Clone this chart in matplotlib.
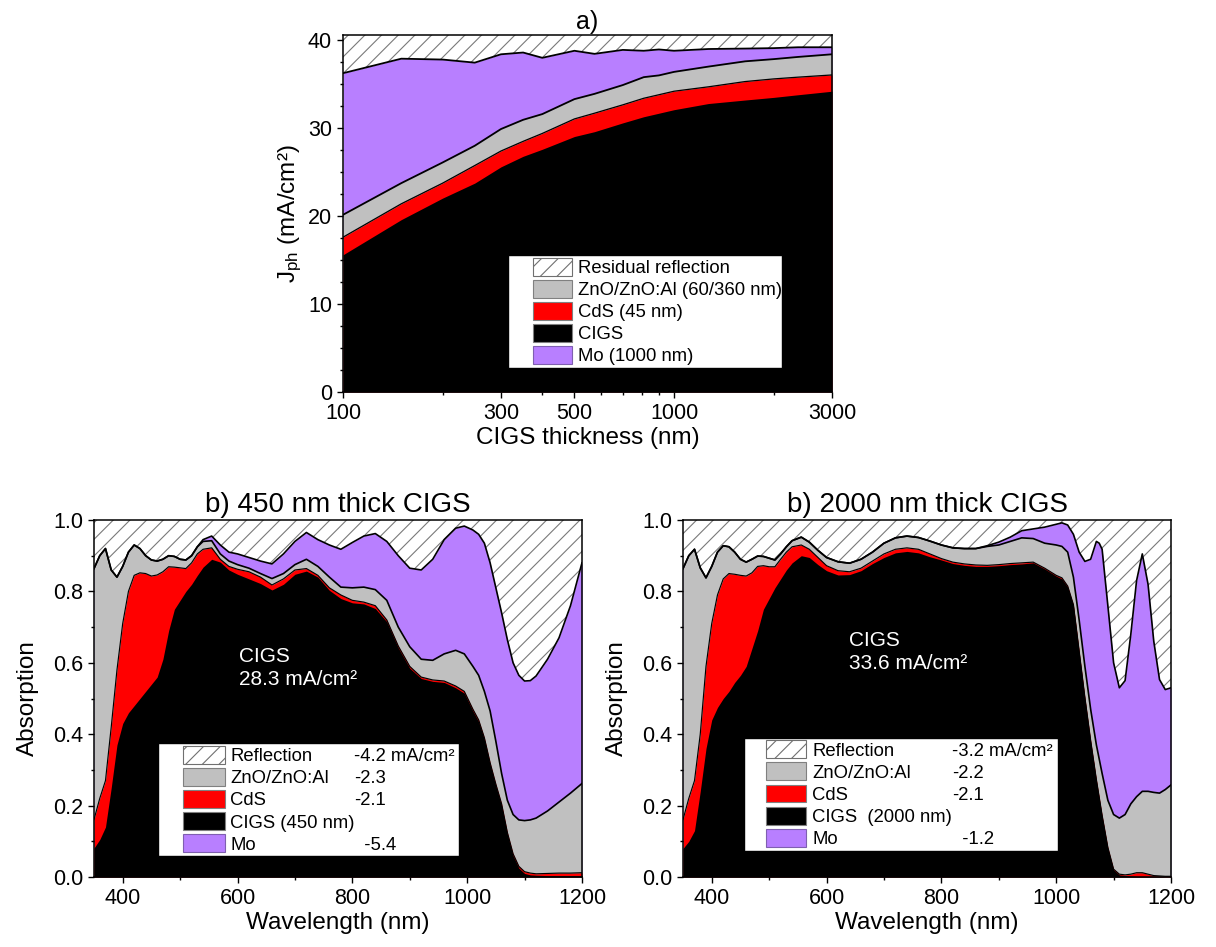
import numpy as np
import matplotlib.pyplot as plt
from matplotlib.patches import Patch, Rectangle
from matplotlib.legend_handler import HandlerPatch
from matplotlib.ticker import FixedLocator, NullFormatter, FuncFormatter, MultipleLocator

plt.rcParams['font.family'] = ['Liberation Sans', 'DejaVu Sans']
plt.rcParams['mathtext.fontset'] = 'custom'
plt.rcParams['mathtext.rm'] = 'Liberation Sans'
plt.rcParams['mathtext.it'] = 'Liberation Sans:italic'
plt.rcParams['hatch.linewidth'] = 0.8

PURPLE = '#b87fff'
GRAY = '#c0c0c0'
RED = '#ff0000'
HATCH = '#7a7a7a'

# ---- a) photocurrent vs CIGS thickness (cumulative tops, mA/cm2)
thickness = [100, 150, 200, 250, 300, 350, 400, 500, 575, 700, 810, 900, 1000, 1270, 1640, 2000, 2370, 3000]
j_cigs = [15.6, 19.6, 22.05, 23.75, 25.6, 26.8, 27.6, 29.05, 29.6, 30.6, 31.3, 31.7, 32.1, 32.8, 33.2, 33.5, 33.8, 34.2]
j_cds = [17.6, 21.4, 23.75, 25.75, 27.4, 28.5, 29.4, 31.05, 31.7, 32.65, 33.4, 33.8, 34.2, 34.7, 35.3, 35.6, 35.8, 36.05]
j_zno = [20.15, 23.75, 26.1, 28.0, 29.9, 30.95, 31.6, 33.3, 33.9, 34.9, 35.8, 36.0, 36.4, 37.0, 37.6, 37.85, 38.1, 38.4]
j_mo = [36.25, 37.9, 37.8, 37.45, 38.4, 38.6, 38.0, 38.8, 38.45, 38.9, 38.8, 38.95, 38.8, 39.0, 39.05, 39.1, 39.2, 39.2]
j_incident = 41.0
labels_a = ['Residual reflection', 'ZnO/ZnO:Al (60/360 nm)', 'CdS (45 nm)', 'CIGS', 'Mo (1000 nm)']

# ---- b) absorption spectra, 450 nm CIGS (cumulative tops)
wl_450 = [350, 360, 370, 380, 390, 400, 410, 420, 430, 440, 450, 460, 470, 480, 490, 500, 510, 520, 530, 540,
          555, 570, 585, 600, 620, 640, 660, 680, 700, 720, 740, 760, 780, 800, 820, 840, 860, 880, 900, 920,
          940, 960, 980, 995, 1010, 1020, 1030, 1040, 1050, 1060, 1070, 1080, 1090, 1100, 1110, 1120, 1140,
          1160, 1180, 1200]
a450_cigs = [.081, .105, .14, .25, .37, .43, .46, .48, .50, .52, .54, .56, .61, .69, .75, .775, .80, .82, .845, .868,
             .89, .882, .86, .848, .835, .822, .804, .82, .848, .857, .84, .803, .78, .768, .765, .752, .715, .642, .585, .556,
             .548, .545, .53, .515, .465, .435, .385, .315, .255, .20, .12, .06, .025, .01, .006, .005, .004,
             .004, .004, .004]
a450_cds = [.161, .22, .27, .42, .58, .71, .80, .845, .852, .85, .843, .846, .855, .869, .868, .866, .864, .88, .905, .918,
            .922, .89, .87, .862, .855, .84, .818, .835, .86, .864, .845, .81, .79, .775, .77, .76, .72, .647, .59, .56,
            .552, .549, .535, .52, .47, .44, .39, .32, .26, .205, .125, .065, .03, .015, .011, .009, .01,
            .011, .011, .012]
a450_zno = [.864, .90, .92, .86, .84, .87, .91, .93, .92, .90, .888, .885, .89, .90, .898, .89, .888, .90, .925, .94,
            .942, .905, .885, .875, .865, .85, .836, .85, .875, .89, .87, .84, .812, .81, .812, .805, .775, .70, .645, .61,
            .607, .625, .635, .625, .59, .565, .52, .465, .38, .29, .215, .175, .16, .158, .16, .165, .185,
            .21, .235, .262]
a450_mo = [.864, .90, .92, .86, .84, .87, .91, .93, .92, .90, .888, .885, .89, .90, .898, .89, .888, .90, .925, .945,
           .955, .93, .91, .905, .895, .885, .877, .905, .94, .965, .945, .93, .918, .937, .955, .962, .94, .90, .865, .86,
           .89, .945, .977, .983, .972, .96, .935, .88, .81, .74, .665, .60, .565, .549, .55, .563, .61,
           .67, .76, .88]
labels_450 = ['Reflection', 'ZnO/ZnO:Al', 'CdS', 'CIGS (450 nm)', 'Mo']
values_450 = ['-4.2 mA/cm²', '-2.3', '-2.1', '', '  -5.4']

# ---- b) absorption spectra, 2000 nm CIGS (cumulative tops)
wl_2000 = [350, 360, 370, 380, 390, 400, 410, 420, 430, 440, 450, 460, 470, 480, 490, 500, 510, 520, 530, 540,
           556, 570, 585, 600, 620, 640, 660, 680, 700, 720, 740, 760, 780, 800, 820, 840, 860, 880, 900, 920,
           940, 960, 980, 1000, 1010, 1020, 1030, 1040, 1050, 1060, 1070, 1075, 1080, 1090, 1100, 1110, 1120,
           1130, 1140, 1150, 1160, 1170, 1180, 1190, 1200]
a2000_cigs = [.08, .10, .13, .24, .36, .44, .475, .50, .52, .545, .565, .59, .64, .69, .75, .78, .81, .835, .86, .88,
              .90, .895, .875, .858, .846, .847, .858, .878, .895, .908, .912, .908, .897, .888, .878, .873, .870, .870, .872, .875,
              .877, .88, .863, .843, .835, .812, .76, .63, .50, .38, .27, .22, .17, .08, .02, .006, .004,
              .003, .002, .002, .002, .002, .002, .001, .001]
a2000_cds = [.161, .22, .27, .40, .59, .71, .79, .835, .85, .848, .845, .843, .852, .87, .872, .869, .869, .89, .91, .925,
             .93, .918, .895, .872, .858, .855, .865, .885, .905, .918, .922, .918, .905, .892, .882, .877, .874, .873, .875, .878,
             .88, .882, .865, .845, .838, .815, .763, .633, .503, .383, .273, .223, .173, .083, .022, .008, .006,
             .008, .012, .012, .008, .004, .003, .002, .002]
a2000_zno = [.864, .90, .918, .866, .838, .87, .91, .928, .925, .91, .89, .882, .89, .899, .898, .893, .888, .905, .925, .942,
             .952, .938, .915, .895, .883, .879, .89, .91, .935, .95, .955, .951, .941, .93, .922, .92, .92, .926, .93, .94,
             .95, .948, .935, .93, .926, .91, .84, .72, .59, .47, .37, .33, .29, .215, .175, .165, .175,
             .205, .225, .24, .24, .237, .235, .245, .258]
a2000_mo = [.864, .90, .918, .866, .838, .87, .91, .928, .925, .91, .89, .882, .89, .899, .898, .893, .888, .905, .925, .942,
            .952, .938, .915, .895, .883, .879, .89, .91, .935, .95, .955, .951, .941, .93, .922, .92, .92, .928, .938, .952,
            .97, .975, .98, .988, .992, .986, .96, .91, .884, .89, .94, .935, .918, .76, .60, .53, .55,
            .68, .83, .905, .82, .66, .553, .525, .53]
labels_2000 = ['Reflection', 'ZnO/ZnO:Al', 'CdS', 'CIGS  (2000 nm)', 'Mo']
values_2000 = ['-3.2 mA/cm²', '-2.2', '-2.1', '', '  -1.2']


def draw_stack(ax, x, cigs, cds, zno, mo, top, lw):
    # overlapping fills from zero avoid seams between the layers
    ax.fill_between(x, mo, top, facecolor='white', edgecolor=HATCH, hatch='//', lw=0, zorder=1)
    ax.fill_between(x, 0, mo, color=PURPLE, lw=0, zorder=1.1)
    ax.fill_between(x, 0, zno, color=GRAY, lw=0, zorder=1.2)
    ax.fill_between(x, 0, cds, color=RED, lw=0, zorder=1.3)
    ax.fill_between(x, 0, cigs, color='black', lw=0, zorder=1.4)
    ax.plot(x, cds, color='black', lw=lw * 0.7, zorder=2)
    ax.plot(x, zno, color='black', lw=lw, zorder=2)
    ax.plot(x, mo, color='black', lw=lw, zorder=2)


def legend_handles():
    return [Patch(facecolor='white', edgecolor='#707070', hatch='//', lw=0.8),
            Patch(facecolor=GRAY, edgecolor='#808080', lw=0.8),
            Patch(facecolor=RED, edgecolor='#808080', lw=0.8),
            Patch(facecolor='black', edgecolor='#808080', lw=0.8),
            Patch(facecolor=PURPLE, edgecolor='#7f5fb0', lw=0.8)]


def add_legend(ax, labels, x0, y0, w, hl, frac):
    def swatch(legend, orig_handle, xdescent, ydescent, width, height, fontsize):
        return Rectangle((-xdescent + width * frac, -ydescent), width * (1 - frac), height)

    leg = ax.legend(legend_handles(), labels, loc='lower left', bbox_to_anchor=(x0, y0, w, 0.2),
                    mode='expand', borderaxespad=0, fancybox=False, edgecolor='black', framealpha=1,
                    fontsize=13.3, handlelength=hl, handleheight=1.12, labelspacing=0.15,
                    handletextpad=0.3, borderpad=0.15,
                    handler_map={Patch: HandlerPatch(patch_func=swatch)})
    leg.get_frame().set_linewidth(1.0)
    return leg


def style_axes(ax):
    for s in ax.spines.values():
        s.set_linewidth(1.1)
    ax.tick_params(which='both', direction='out', top=False, right=False, width=1.0,
                   labelsize=15.5, pad=4)
    ax.tick_params(which='major', length=4)
    ax.tick_params(which='minor', length=2.4)


fig = plt.figure(figsize=(12.16, 9.47), dpi=100)

# ---------------- panel a
ax_a = fig.add_axes([0.2821, 0.5861, 0.4021, 0.377])
draw_stack(ax_a, thickness, j_cigs, j_cds, j_zno, j_mo, j_incident, 1.3)
ax_a.set_xscale('log')
ax_a.set_xlim(100, 3000)
ax_a.set_ylim(0, 40.6)
ax_a.xaxis.set_major_locator(FixedLocator([100, 300, 500, 1000, 3000]))
ax_a.xaxis.set_major_formatter(FuncFormatter(lambda v, p: f'{v:g}'))
ax_a.xaxis.set_minor_locator(FixedLocator([200, 400, 600, 700, 800, 900, 2000]))
ax_a.xaxis.set_minor_formatter(NullFormatter())
ax_a.yaxis.set_major_locator(MultipleLocator(10))
ax_a.yaxis.set_minor_locator(MultipleLocator(2.5))
style_axes(ax_a)
ax_a.set_xlabel('CIGS thickness (nm)', fontsize=17.5, labelpad=2)
ax_a.set_ylabel('J$_{\\mathregular{ph}}$ (mA/cm²)', fontsize=17.5, labelpad=3)
ax_a.set_title('a)', fontsize=18, pad=4)
add_legend(ax_a, labels_a, 0.337, 0.067, 0.561, 3.35, 0.37)

# ---------------- panels b
panels_b = [
    ([0.0773, 0.0739, 0.4013, 0.377], wl_450, a450_cigs, a450_cds, a450_zno, a450_mo,
     'b) 450 nm thick CIGS', 'CIGS\n28.3 mA/cm²', (602, 0.644), labels_450, values_450,
     (0.131, 0.058, 0.617, 3.46, 0.344), 0.533),
    ([0.5617, 0.0739, 0.4013, 0.377], wl_2000, a2000_cigs, a2000_cds, a2000_zno, a2000_mo,
     'b) 2000 nm thick CIGS', 'CIGS\n33.6 mA/cm²', (639, 0.688), labels_2000, values_2000,
     (0.125, 0.074, 0.644, 3.23, 0.314), 0.551),
]

legends_b = []
for rect, wl, k, c, g, m, title, note, note_xy, labels, values, lpos, xval in panels_b:
    ax = fig.add_axes(rect)
    draw_stack(ax, wl, k, c, g, m, 1.0, 1.2)
    ax.set_xlim(350, 1200)
    ax.set_ylim(0, 1.0)
    ax.xaxis.set_major_locator(MultipleLocator(200))
    ax.xaxis.set_minor_locator(MultipleLocator(100))
    ax.yaxis.set_major_locator(MultipleLocator(0.2))
    ax.yaxis.set_minor_locator(MultipleLocator(0.1))
    ax.yaxis.set_major_formatter(FuncFormatter(lambda v, p: f'{v:.1f}'))
    style_axes(ax)
    ax.set_xlabel('Wavelength (nm)', fontsize=17.5, labelpad=2)
    ax.set_ylabel('Absorption', fontsize=17.5, labelpad=10)
    ax.set_title(title, fontsize=20, pad=6)
    ax.text(note_xy[0], note_xy[1], note, color='white', fontsize=15, va='top', ha='left',
            linespacing=1.25, zorder=3)
    leg = add_legend(ax, labels, *lpos)
    legends_b.append((ax, leg, values, xval))

# value column inside the b legends, aligned with each legend row
fig.canvas.draw()
for ax, leg, values, xval in legends_b:
    for t, val in zip(leg.get_texts(), values):
        if not val:
            continue
        bb = t.get_window_extent()
        yc = ax.transAxes.inverted().transform((0, (bb.y0 + bb.y1) / 2))[1]
        ax.text(xval, yc, val, transform=ax.transAxes, fontsize=13.3, va='center', ha='left',
                zorder=10)

fig.savefig('out.png', dpi=100)
